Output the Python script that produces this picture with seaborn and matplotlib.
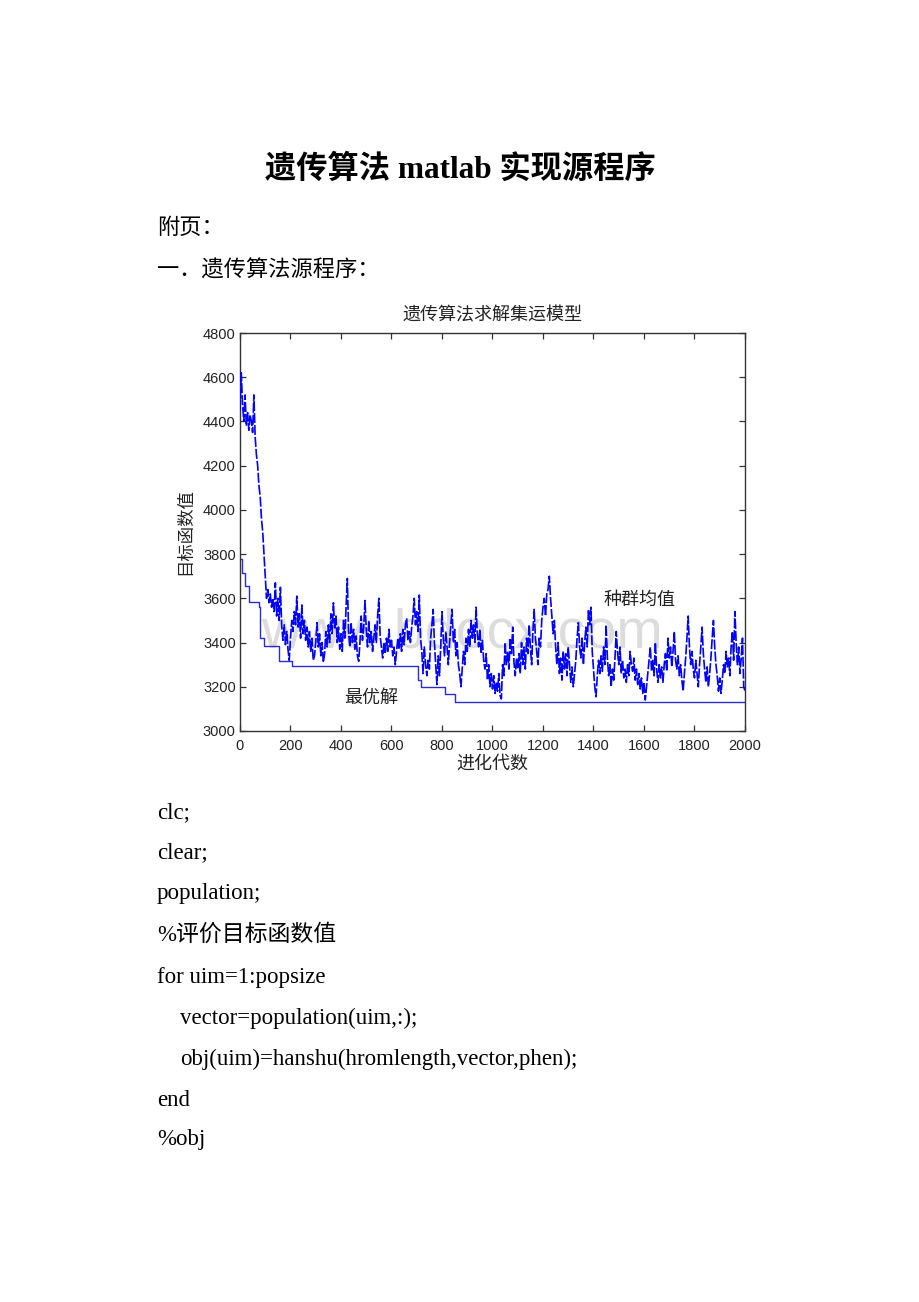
import numpy as np
import pandas as pd
import matplotlib
matplotlib.use("Agg")
import matplotlib.pyplot as plt
import seaborn as sns

# ---------------- data ----------------
gen_step = 5
mean_values = [
    # 0-95
    4450, 4620, 4480, 4400, 4520, 4380, 4440, 4360, 4430, 4400, 4350, 4520, 4330, 4250, 4200, 4110, 4060, 3960, 3900, 3800,
    # 100-195
    3700, 3600, 3640, 3580, 3620, 3560, 3600, 3540, 3670, 3520, 3600, 3500, 3650, 3480, 3410, 3480, 3390, 3450, 3370, 3320,
    # 200-295
    3420, 3500, 3450, 3540, 3480, 3610, 3470, 3530, 3420, 3570, 3440, 3500, 3410, 3470, 3380, 3450, 3360, 3420, 3320, 3340,
    # 300-395
    3400, 3490, 3380, 3440, 3340, 3400, 3310, 3350, 3450, 3380, 3480, 3400, 3530, 3440, 3580, 3460, 3520, 3400, 3470, 3370,
    # 400-495
    3440, 3360, 3500, 3420, 3560, 3690, 3450, 3380, 3490, 3400, 3460, 3370, 3430, 3340, 3315, 3400, 3520, 3410, 3470, 3590,
    # 500-595
    3460, 3380, 3500, 3400, 3450, 3360, 3420, 3480, 3400, 3520, 3600, 3430, 3380, 3330, 3400, 3350, 3420, 3360, 3460, 3380,
    # 600-695
    3410, 3340, 3380, 3300, 3360, 3420, 3370, 3440, 3360, 3460, 3390, 3480, 3510, 3410, 3450, 3400, 3470, 3520, 3600, 3480,
    # 700-795
    3540, 3450, 3615, 3420, 3360, 3260, 3380, 3300, 3250, 3320, 3280, 3420, 3480, 3550, 3400, 3300, 3210, 3340, 3250, 3380,
    # 800-895
    3540, 3420, 3340, 3450, 3380, 3300, 3400, 3480, 3550, 3400, 3460, 3340, 3400, 3300, 3260, 3200, 3280, 3360, 3300, 3420,
    # 900-995
    3360, 3460, 3380, 3500, 3420, 3480, 3400, 3560, 3440, 3380, 3460, 3350, 3410, 3320, 3280, 3350, 3230, 3300, 3200, 3260,
    # 1000-1095
    3190, 3250, 3170, 3220, 3180, 3260, 3160, 3145, 3300, 3250, 3400, 3300, 3360, 3280, 3420, 3350, 3470, 3310, 3250, 3330,
    # 1100-1195
    3280, 3350, 3260, 3400, 3300, 3380, 3280, 3420, 3350, 3480, 3380, 3300, 3450, 3550, 3420, 3360, 3300, 3420, 3380, 3500,
    # 1200-1295
    3560, 3600, 3520, 3620, 3640, 3700, 3600, 3520, 3440, 3500, 3380, 3300, 3400, 3260, 3330, 3230, 3360, 3280, 3350, 3250,
    # 1300-1395
    3380, 3300, 3220, 3290, 3200, 3260, 3320, 3420, 3490, 3380, 3330, 3420, 3300, 3400, 3470, 3380, 3550, 3480, 3560, 3360,
    # 1400-1495
    3280, 3200, 3155, 3250, 3320, 3260, 3340, 3270, 3380, 3300, 3480, 3330, 3250, 3300, 3200, 3280, 3230, 3330, 3450, 3360,
    # 1500-1595
    3300, 3380, 3260, 3320, 3240, 3280, 3220, 3300, 3250, 3360, 3300, 3270, 3330, 3230, 3280, 3210, 3260, 3190, 3240, 3170,
    # 1600-1695
    3220, 3140, 3200, 3260, 3320, 3380, 3270, 3320, 3250, 3400, 3280, 3220, 3300, 3240, 3290, 3220, 3300, 3350, 3270, 3420,
    # 1700-1795
    3330, 3380, 3290, 3360, 3450, 3320, 3280, 3340, 3250, 3300, 3230, 3180, 3260, 3330, 3420, 3520, 3380, 3300, 3360, 3280,
    # 1800-1895
    3240, 3320, 3260, 3200, 3300, 3380, 3470, 3350, 3280, 3220, 3290, 3200, 3260, 3330, 3420, 3500, 3380, 3300, 3250, 3180,
    # 1900-1995
    3240, 3170, 3230, 3300, 3260, 3360, 3290, 3330, 3250, 3380, 3450, 3320, 3540, 3400, 3300, 3380, 3260, 3330, 3420, 3200,
    # 2000
    3180,
]
best_gens = [0, 8, 18, 36, 76, 80, 96, 153, 205, 706, 718, 812, 851, 2000]
best_values = [3780, 3713, 3655, 3582, 3560, 3420, 3384, 3318, 3296, 3230, 3198, 3167, 3133, 3133]

x_ticks = [0, 200, 400, 600, 800, 1000, 1200, 1400, 1600, 1800, 2000]
y_ticks = [3000, 3200, 3400, 3600, 3800, 4000, 4200, 4400, 4600, 4800]

chart_title = "遗传算法求解集运模型"
x_label = "进化代数"
y_label = "目标函数值"
label_mean = "种群均值"
label_best = "最优解"

page_title = "遗传算法 matlab 实现源程序"
page_lines = ["附页：", "一．遗传算法源程序："]
code_lines = ["clc;", "clear;", "population;", "%评价目标函数值", "for uim=1:popsize",
              "vector=population(uim,:);", "obj(uim)=hanshu(hromlength,vector,phen);",
              "end", "%obj"]
code_indent = [0, 0, 0, 0, 0, 1, 1, 0, 0]

mean_df = pd.DataFrame({"gen": np.arange(0, 2001, gen_step), "value": mean_values})
best_df = pd.DataFrame({"gen": best_gens, "value": best_values})

# ---------------- style ----------------
sns.set_theme(style="white")
plt.rcParams["font.family"] = ["Liberation Sans", "Noto Sans CJK SC", "DejaVu Sans"]

W, H = 920, 1302
fig = plt.figure(figsize=(W / 100, H / 100), dpi=100)
fig.patch.set_facecolor("white")

def px(x, y):
    return x / W, 1 - y / H

CJK = ["Noto Sans CJK SC", "DejaVu Sans"]
SERIF = ["Liberation Serif", "Noto Sans CJK SC", "DejaVu Sans"]

# page title
fig.text(*px(460, 170), page_title, ha="center", va="center", fontsize=22.5,
         fontweight="bold", family=SERIF, color="black")
for i, t in enumerate(page_lines):
    fig.text(*px(157, 227 + 43 * i), t, ha="left", va="center", fontsize=16,
             family=CJK, color="black")
code_y = [813, 853, 894, 935, 977, 1018, 1059, 1100, 1140]
for t, yy, ind in zip(code_lines, code_y, code_indent):
    fig.text(*px(157 + 23 * ind, yy), t, ha="left", va="center", fontsize=16.5,
             family=SERIF, color="black")

# ---------------- chart ----------------
ax = fig.add_axes([240 / W, 1 - 731 / H, 505 / W, 398 / H])
ax.set_facecolor("white")

# watermark
ax.text(0.44, 0.245, "www.bdocx.com", transform=ax.transAxes, ha="center", va="center",
        fontsize=40, color="#dcdcdc", family=["Liberation Sans"], zorder=0)

sns.lineplot(data=best_df, x="gen", y="value", ax=ax, color="#2b2bd0", lw=1.0,
             drawstyle="steps-post", zorder=2)
sns.lineplot(data=mean_df, x="gen", y="value", ax=ax, color="#0000ff", lw=1.2,
             linestyle=(0, (6, 1.2)), zorder=3)

ax.set_xlim(0, 2000)
ax.set_ylim(3000, 4800)
ax.set_xticks(x_ticks)
ax.set_yticks(y_ticks)
ax.set_xticklabels([str(v) for v in x_ticks])
ax.set_yticklabels([str(v) for v in y_ticks])
ax.tick_params(direction="in", length=4, width=0.9, color="#333333", labelsize=10.5,
               labelcolor="#222222", top=True, right=True, bottom=True, left=True)
ax.tick_params(axis="x", pad=6)
ax.tick_params(axis="y", pad=3)
for s in ax.spines.values():
    s.set_visible(True)
    s.set_color("#333333")
    s.set_linewidth(1.0)
ax.grid(False)

ax.set_title(chart_title, family=CJK, fontsize=13, color="#222222", y=(731 - 315) / 398,
             va="center", pad=0)
ax.set_xlabel(x_label, family=CJK, fontsize=13, color="#222222", va="center")
ax.xaxis.set_label_coords(0.5, (731 - 764) / 398)
ax.set_ylabel(y_label, family=CJK, fontsize=12.5, color="#222222", va="center")
ax.yaxis.set_label_coords((185 - 240) / 505, 0.5)

ax.text(1584, 3592, label_mean, family=CJK, fontsize=13, color="#222222",
        ha="center", va="center", zorder=4)
ax.text(519, 3149, label_best, family=CJK, fontsize=13, color="#222222",
        ha="center", va="center", zorder=4)

fig.savefig("out.png", dpi=100, facecolor="white")
